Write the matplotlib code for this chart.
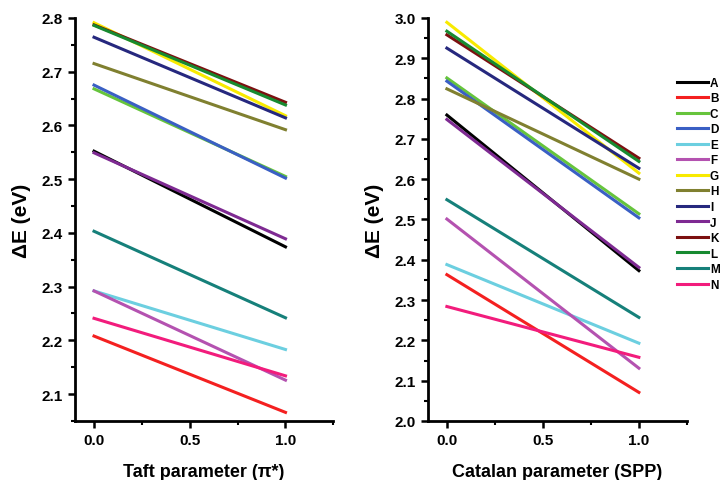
import matplotlib.pyplot as plt
from matplotlib.ticker import MultipleLocator

plt.rcParams['font.family'] = ['Liberation Sans', 'DejaVu Sans']

labels = ["A", "B", "C", "D", "E", "F", "G", "H", "I", "J", "K", "L", "M", "N"]
colors = ["#000000", "#f42020", "#66c43c", "#3a5fc4", "#6ccfe0", "#b452b0",
          "#f8ea00", "#808030", "#26287e", "#7e2a92", "#7c1010", "#178a30",
          "#16807a", "#f21c7c"]

x = [0.0, 1.0]

# Taft parameter (pi*) : values at 0 and 1
taft_start = [2.552, 2.208, 2.668, 2.675, 2.292, 2.292, 2.791, 2.715, 2.764, 2.549, 2.787, 2.786, 2.403, 2.241]
taft_end = [2.374, 2.066, 2.505, 2.502, 2.183, 2.126, 2.618, 2.592, 2.614, 2.389, 2.643, 2.638, 2.242, 2.134]

# Catalan parameter (SPP)
cat_start = [2.759, 2.363, 2.851, 2.843, 2.388, 2.501, 2.989, 2.824, 2.925, 2.748, 2.958, 2.967, 2.549, 2.284]
cat_end = [2.373, 2.071, 2.514, 2.504, 2.193, 2.131, 2.615, 2.600, 2.627, 2.381, 2.652, 2.644, 2.257, 2.158]

fig = plt.figure(figsize=(7.2, 4.81), dpi=100)
ax1 = fig.add_axes([0.104, 0.1227, 0.359, 0.838])
ax2 = fig.add_axes([0.594, 0.1227, 0.360, 0.838])


def style(ax, xlabel):
    for s in ["top", "right"]:
        ax.spines[s].set_visible(False)
    for s in ["left", "bottom"]:
        ax.spines[s].set_linewidth(2.0)
    ax.set_xlim(-0.1, 1.25)
    ax.set_xticks([0.0, 0.5, 1.0])
    ax.set_xticklabels(["0.0", "0.5", "1.0"])
    ax.xaxis.set_minor_locator(MultipleLocator(0.25))
    ax.tick_params(which="major", direction="out", length=5, width=1.8, labelsize=11)
    ax.tick_params(which="minor", direction="out", length=3, width=1.5)
    for t in ax.get_xticklabels() + ax.get_yticklabels():
        t.set_fontweight("bold")
    ax.set_xlabel(xlabel, fontsize=13, fontweight="bold", labelpad=12)
    ax.set_ylabel("ΔE (eV)", fontsize=15, fontweight="bold", labelpad=8)


for i in range(len(labels)):
    ax1.plot(x, [taft_start[i], taft_end[i]], color=colors[i], lw=2.2, label=labels[i])
    ax2.plot(x, [cat_start[i], cat_end[i]], color=colors[i], lw=2.2, label=labels[i])

ax1.set_ylim(2.05, 2.8)
ax1.set_yticks([2.1, 2.2, 2.3, 2.4, 2.5, 2.6, 2.7, 2.8])
ax1.yaxis.set_minor_locator(MultipleLocator(0.05))
style(ax1, "Taft parameter (π*)")

ax2.set_ylim(2.0, 3.0)
ax2.set_yticks([2.0, 2.1, 2.2, 2.3, 2.4, 2.5, 2.6, 2.7, 2.8, 2.9, 3.0])
ax2.yaxis.set_minor_locator(MultipleLocator(0.05))
style(ax2, "Catalan parameter (SPP)")

leg = ax2.legend(loc="upper left", bbox_to_anchor=(0.945, 0.866), frameon=False,
                 fontsize=8.5, handlelength=2.6, handletextpad=0.15,
                 labelspacing=0.30, borderaxespad=0)
for t in leg.get_texts():
    t.set_fontweight("bold")

plt.savefig("out.png", dpi=100)
plt.close("all")
